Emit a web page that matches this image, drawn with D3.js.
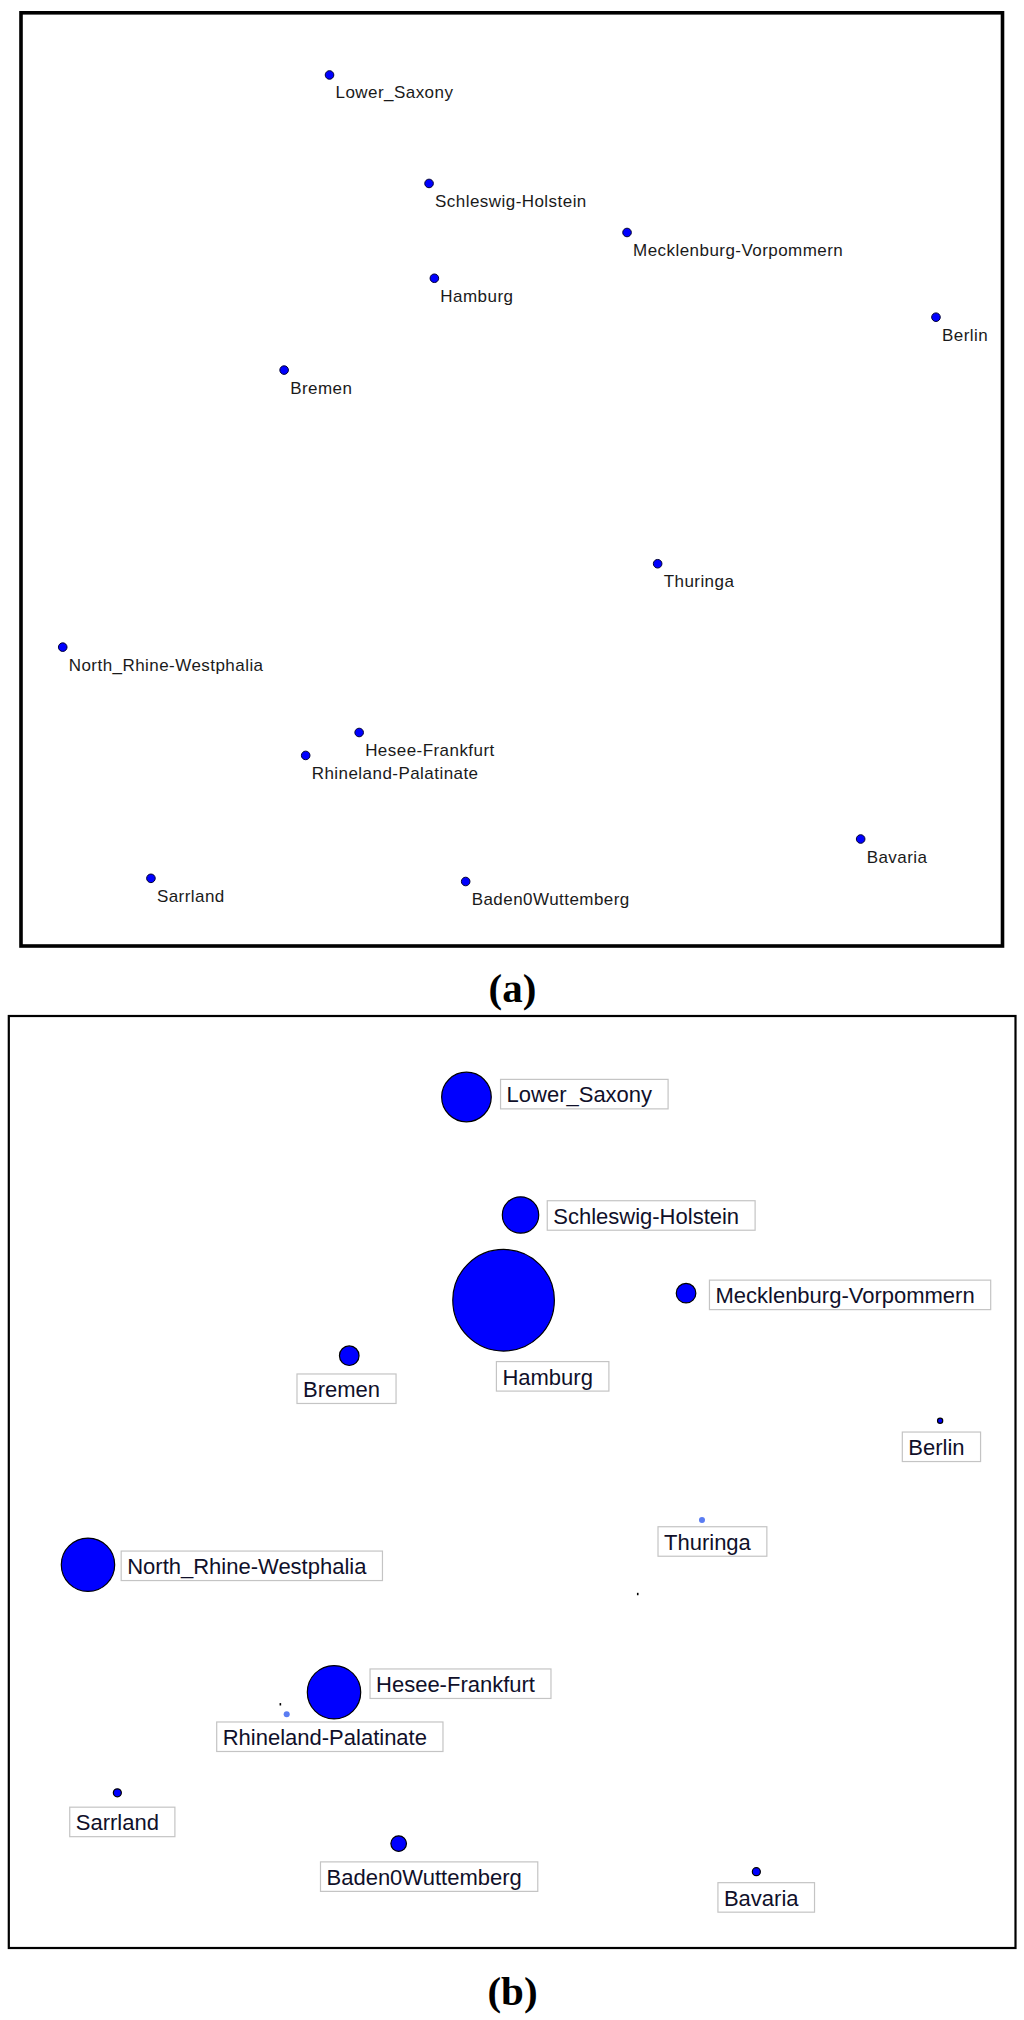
<!DOCTYPE html>
<html>
<head>
<meta charset="utf-8">
<script src="https://cdn.jsdelivr.net/npm/d3@7"></script>
<style>
  body { margin: 0; background: #fff; }
</style>
</head>
<body>
<div class="chart"></div>
<script>
// state names, same order in both layouts
const states = ["Lower_Saxony", "Schleswig-Holstein", "Mecklenburg-Vorpommern", "Hamburg", "Berlin", "Bremen",
    "Thuringa", "North_Rhine-Westphalia", "Hesee-Frankfurt", "Rhineland-Palatinate", "Bavaria", "Sarrland", "Baden0Wuttemberg"];

// (a) layout, 0-100 units of the canvas
const aX = [31.49, 41.60, 61.71, 42.14, 93.09, 26.88, 64.82, 4.39, 34.50, 29.07, 85.44, 13.35, 45.32];
const aY = [6.78, 18.37, 23.61, 28.50, 32.66, 38.31, 59.00, 67.91, 77.03, 79.48, 88.41, 92.61, 92.95];

// (b) layout, node weights and label box anchors (top-left), 0-100 units
const bX = [45.47, 50.83, 67.24, 49.15, 92.43, 33.85, 68.82, 7.95, 32.34, 27.65, 74.21, 10.86, 38.75];
const bY = [8.69, 21.35, 29.74, 30.50, 43.43, 36.45, 54.08, 58.88, 72.56, 74.92, 91.81, 83.35, 88.80];
const bWeight = [23.65, 12.73, 3.69, 99.2, 0.26, 3.69, 0.35, 27.4, 27.4, 0.35, 0.62, 0.62, 2.34];
const bGroup = ["core", "core", "core", "core", "core", "core", "weak", "core", "core", "weak", "core", "core", "core"];
const bLabelX = [48.85, 53.48, 69.56, 48.44, 88.68, 28.67, 64.46, 11.24, 35.91, 20.71, 70.40, 6.14, 31.00];
const bLabelY = [6.80, 19.82, 28.34, 37.08, 44.64, 38.41, 54.80, 57.41, 70.06, 75.75, 92.99, 84.89, 90.76];

// stray tiny nodes in (b)
const strayX = [62.45, 27.02];
const strayY = [62.02, 73.85];

const panelTitles = ["(a)", "(b)"];

const width = 1024;
const height = 2020;

const svg = d3.select('.chart')
    .append('svg')
    .attr('width', width)
    .attr('height', height);

// ---------- panel (a) ----------
const xA = d3.scaleLinear().domain([0, 100]).range([19.5, 1004]);
const yA = d3.scaleLinear().domain([0, 100]).range([11.5, 947.5]);

svg.append("rect")
    .attr("x", 21).attr("y", 12.8)
    .attr("width", 981.5).attr("height", 933.2)
    .attr("fill", "none")
    .attr("stroke", "#000")
    .attr("stroke-width", 3.6);

const gA = svg.append("g");

gA.selectAll("circle")
    .data(states)
    .enter()
    .append("circle")
        .attr("cx", (d, i) => xA(aX[i]))
        .attr("cy", (d, i) => yA(aY[i]))
        .attr("r", 4.3)
        .style("fill", "#0000ff")
        .style("stroke", "#000033")
        .style("stroke-width", 1);

gA.selectAll("text")
    .data(states)
    .enter()
    .append("text")
        .attr("x", (d, i) => xA(aX[i]) + 6)
        .attr("y", (d, i) => yA(aY[i]) + 23.5)
        .style("font-family", "'Liberation Sans', Arial, sans-serif")
        .style("font-size", "17px")
        .style("letter-spacing", "0.45px")
        .style("fill", "#1a1a1a")
        .text(d => d);

// ---------- panel (b) ----------
const xB = d3.scaleLinear().domain([0, 100]).range([7.8, 1016.5]);
const yB = d3.scaleLinear().domain([0, 100]).range([1016, 1948]);
const rB = d3.scaleSqrt().domain([0, 100]).range([0, 51]);
const colorB = d3.scaleOrdinal().domain(["core", "weak"]).range(["#0000ff", "#5a7cf2"]);

svg.append("rect")
    .attr("x", 8.8).attr("y", 1016)
    .attr("width", 1006.7).attr("height", 932)
    .attr("fill", "none")
    .attr("stroke", "#000")
    .attr("stroke-width", 2.2);

const gB = svg.append("g");

gB.selectAll("rect.stray")
    .data(strayX)
    .enter()
    .append("rect")
        .attr("class", "stray")
        .attr("x", (d, i) => xB(d) - 0.8)
        .attr("y", (d, i) => yB(strayY[i]) - 1.2)
        .attr("width", 1.6)
        .attr("height", 2.4)
        .style("fill", "#000");

gB.selectAll("circle")
    .data(states)
    .enter()
    .append("circle")
        .attr("cx", (d, i) => xB(bX[i]))
        .attr("cy", (d, i) => yB(bY[i]))
        .attr("r", (d, i) => rB(bWeight[i]))
        .style("fill", (d, i) => colorB(bGroup[i]))
        .style("stroke", (d, i) => bGroup[i] === "core" ? "#000" : "none")
        .style("stroke-width", 1.2);

const labels = gB.selectAll("g.label")
    .data(states)
    .enter()
    .append("g")
        .attr("class", "label")
        .attr("transform", (d, i) => `translate(${xB(bLabelX[i])}, ${yB(bLabelY[i])})`);

labels.append("rect")
    .attr("class", "box")
    .attr("height", 29.5)
    .style("fill", "#fff")
    .style("stroke", "#c4c4c4")
    .style("stroke-width", 1.2);

labels.append("text")
    .attr("x", 6)
    .attr("y", 23)
    .style("font-family", "'Liberation Sans', Arial, sans-serif")
    .style("font-size", "22px")
    .style("fill", "#10102a")
    .text(d => d);

// box grows with its text
labels.each(function() {
    const g = d3.select(this);
    const w = g.select("text").node().getComputedTextLength();
    g.select("rect.box").attr("width", w + 22);
});

// ---------- panel titles ----------
svg.selectAll("text.title")
    .data(panelTitles)
    .enter()
    .append("text")
        .attr("class", "title")
        .attr("x", 512.5)
        .attr("y", (d, i) => i === 0 ? 1001.5 : 2005)
        .attr("text-anchor", "middle")
        .style("font-family", "'Liberation Serif', 'Times New Roman', serif")
        .style("font-weight", "bold")
        .style("font-size", "41px")
        .style("fill", "#000")
        .text(d => d);
</script>
</body>
</html>
